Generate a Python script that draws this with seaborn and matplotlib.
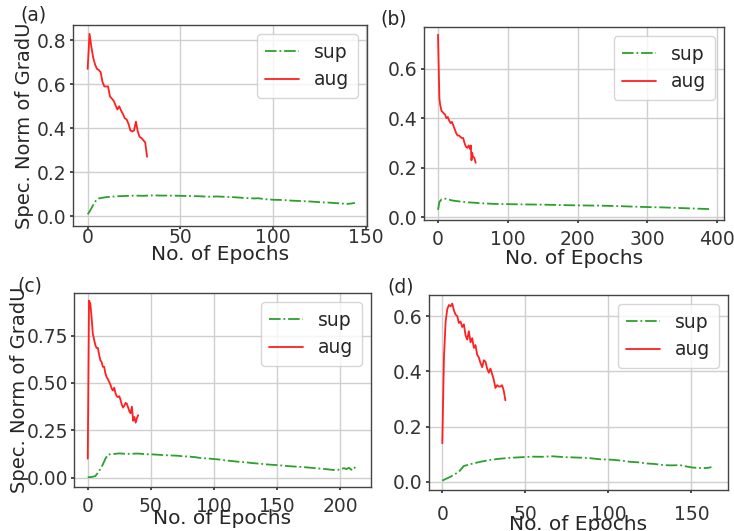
import matplotlib
matplotlib.use("Agg")
import matplotlib.pyplot as plt
import seaborn as sns
from matplotlib.ticker import FormatStrFormatter

# ---------------- data ----------------
# panel (a)
a_sup_ep = [0, 1, 2, 3, 4, 5, 6, 8, 10, 13, 16, 20, 25, 30, 35, 40, 45, 50, 55, 60, 65, 70, 75, 80, 85,
            90, 92, 95, 100, 105, 110, 115, 120, 125, 130, 135, 140, 142, 144]
a_sup = [0.008, 0.02, 0.035, 0.05, 0.065, 0.075, 0.08, 0.083, 0.086, 0.088, 0.09, 0.091, 0.093, 0.092,
         0.094, 0.093, 0.093, 0.092, 0.091, 0.090, 0.088, 0.089, 0.087, 0.085, 0.082, 0.080, 0.081,
         0.077, 0.074, 0.073, 0.070, 0.068, 0.066, 0.063, 0.061, 0.058, 0.055, 0.057, 0.060]
a_aug_ep = list(range(0, 33))
a_aug = [0.67, 0.83, 0.77, 0.72, 0.69, 0.67, 0.665, 0.655, 0.61, 0.59, 0.59, 0.59, 0.545, 0.535, 0.525,
         0.505, 0.485, 0.50, 0.48, 0.465, 0.445, 0.44, 0.42, 0.39, 0.385, 0.39, 0.43, 0.385, 0.36,
         0.355, 0.345, 0.335, 0.27]

# panel (b)
b_sup_ep = [0, 2, 5, 9, 15, 20, 30, 40, 50, 60, 80, 100, 120, 150, 180, 200, 230, 260, 290, 320, 350,
            370, 390]
b_sup = [0.03, 0.062, 0.072, 0.076, 0.072, 0.068, 0.064, 0.061, 0.059, 0.057, 0.054, 0.053, 0.052,
         0.051, 0.049, 0.048, 0.047, 0.045, 0.042, 0.040, 0.037, 0.035, 0.033]
b_aug_ep = [0, 1, 2, 3, 5, 8, 10, 12, 14, 16, 18, 20, 22, 24, 26, 28, 30, 32, 34, 36, 38, 40, 42, 44,
            46, 47, 48, 49, 50, 52, 54]
b_aug = [0.737, 0.60, 0.48, 0.455, 0.43, 0.42, 0.415, 0.40, 0.405, 0.39, 0.38, 0.385, 0.37, 0.355,
         0.34, 0.33, 0.33, 0.325, 0.32, 0.32, 0.30, 0.285, 0.28, 0.29, 0.275, 0.29, 0.23, 0.26, 0.245,
         0.24, 0.22]

# panel (c)
c_sup_ep = [0, 3, 6, 8, 10, 12, 14, 16, 20, 25, 30, 35, 40, 45, 50, 55, 60, 65, 70, 75, 80, 85, 90,
            95, 100, 105, 110, 115, 120, 125, 130, 135, 140, 145, 150, 155, 160, 165, 170, 175, 180,
            185, 190, 195, 200, 203, 205, 207, 209, 211, 213]
c_sup = [0.002, 0.003, 0.008, 0.025, 0.045, 0.07, 0.10, 0.122, 0.124, 0.128, 0.125, 0.126, 0.127,
         0.124, 0.123, 0.121, 0.119, 0.117, 0.116, 0.113, 0.111, 0.108, 0.103, 0.101, 0.098, 0.095,
         0.090, 0.087, 0.083, 0.081, 0.077, 0.074, 0.071, 0.068, 0.066, 0.063, 0.060, 0.058, 0.056,
         0.053, 0.050, 0.047, 0.044, 0.040, 0.042, 0.050, 0.045, 0.052, 0.041, 0.055, 0.045]
c_aug_ep = list(range(0, 41))
c_aug = [0.10, 0.935, 0.92, 0.85, 0.76, 0.73, 0.70, 0.685, 0.685, 0.65, 0.62, 0.61, 0.585, 0.585,
         0.55, 0.53, 0.52, 0.505, 0.49, 0.47, 0.46, 0.475, 0.445, 0.43, 0.425, 0.43, 0.41, 0.385,
         0.37, 0.38, 0.395, 0.39, 0.37, 0.35, 0.34, 0.375, 0.30, 0.32, 0.29, 0.315, 0.33]

# panel (d)
d_sup_ep = [0, 5, 10, 13, 18, 23, 28, 33, 38, 43, 49, 55, 60, 66, 73, 78, 83, 89, 95, 100, 103, 108,
            113, 118, 123, 128, 133, 138, 143, 147, 151, 157, 160, 162]
d_sup = [0.005, 0.019, 0.037, 0.058, 0.066, 0.073, 0.079, 0.083, 0.086, 0.088, 0.090, 0.0915, 0.091,
         0.093, 0.090, 0.089, 0.088, 0.086, 0.082, 0.081, 0.080, 0.077, 0.073, 0.071, 0.067, 0.065,
         0.061, 0.060, 0.061, 0.056, 0.052, 0.050, 0.051, 0.054]
d_aug_ep = list(range(0, 39))
d_aug = [0.14, 0.45, 0.58, 0.625, 0.64, 0.635, 0.645, 0.62, 0.605, 0.60, 0.575, 0.58, 0.56, 0.57,
         0.53, 0.515, 0.545, 0.505, 0.52, 0.485, 0.495, 0.46, 0.45, 0.43, 0.415, 0.44, 0.435, 0.41,
         0.395, 0.41, 0.39, 0.37, 0.34, 0.35, 0.345, 0.345, 0.35, 0.33, 0.295]

panel_letters = ["(a)", "(b)", "(c)", "(d)"]
xtick_vals = [[0, 50, 100, 150], [0, 100, 200, 300, 400], [0, 50, 100, 150, 200], [0, 50, 100, 150]]
ytick_vals = [[0.0, 0.2, 0.4, 0.6, 0.8], [0.0, 0.2, 0.4, 0.6], [0.0, 0.25, 0.5, 0.75], [0.0, 0.2, 0.4, 0.6]]
ylabel_text = "Spec. Norm of GradU"
xlabel_text = "No. of Epochs"

# ---------------- style ----------------
sns.set_theme(style="ticks")
plt.rcParams["font.family"] = ["DejaVu Sans"]
plt.rcParams.update({
    "axes.edgecolor": "#444444",
    "axes.linewidth": 1.0,
    "grid.color": "#cfcfcf",
    "grid.linewidth": 1.0,
    "xtick.color": "#333333",
    "ytick.color": "#333333",
    "xtick.major.size": 2.5,
    "ytick.major.size": 2.5,
})

W, H = 734, 531
fig = plt.figure(figsize=(W / 100, H / 100), dpi=100)

def rect(l, r, t, b):
    return [l / W, 1 - b / H, (r - l) / W, (b - t) / H]

rects = [rect(73, 367, 25, 226), rect(424, 724, 27, 220), rect(74, 371, 293, 487), rect(429, 728, 295, 490)]
xlims = [(-7.9, 150.5), (-20.1, 410), (-10.9, 224.5), (-8.0, 172)]
ylims = [(-0.0455, 0.870), (-0.011, 0.768), (-0.0497, 0.975), (-0.029, 0.676)]
letter_pos = [(20, 15), (380, 19), (17, 286), (387, 287)]
xtick_pad = [-0.8, 5.0, 4.5, 8.5]
xlabel_y = [-0.0945, -0.1502, -0.1135, -0.1282]
ylabel_x = {0: -0.1327, 2: -0.1515}

series = [
    (a_sup_ep, a_sup, a_aug_ep, a_aug),
    (b_sup_ep, b_sup, b_aug_ep, b_aug),
    (c_sup_ep, c_sup, c_aug_ep, c_aug),
    (d_sup_ep, d_sup, d_aug_ep, d_aug),
]

GREEN = "#2ca02c"
RED = "#ff2020"

for i, (sx, sy, ax_, ay) in enumerate(series):
    ax = fig.add_axes(rects[i])
    sns.lineplot(x=sx, y=sy, ax=ax, color=GREEN, linestyle="-.", linewidth=1.3, label="sup")
    sns.lineplot(x=ax_, y=ay, ax=ax, color=RED, linestyle="-", linewidth=1.3, label="aug")
    ax.set_xlim(*xlims[i])
    ax.set_ylim(*ylims[i])
    ax.set_xticks(xtick_vals[i])
    ax.set_yticks(ytick_vals[i])
    if i == 2:
        ax.yaxis.set_major_formatter(FormatStrFormatter("%.2f"))
    else:
        ax.yaxis.set_major_formatter(FormatStrFormatter("%.1f"))
    ax.grid(True)
    ax.tick_params(axis="y", labelsize=13.5, pad=2)
    ax.tick_params(axis="x", labelsize=13.5, pad=xtick_pad[i])
    ax.set_xlabel(xlabel_text, fontsize=14.5)
    ax.xaxis.set_label_coords(0.5, xlabel_y[i])
    if i in (0, 2):
        ax.set_ylabel(ylabel_text, fontsize=14)
        ax.yaxis.set_label_coords(ylabel_x[i], 0.5)
    else:
        ax.set_ylabel("")
    leg = ax.legend(loc="upper right", fontsize=13.5, frameon=True, borderaxespad=0.5,
                    handlelength=1.8, labelspacing=0.45, borderpad=0.45)
    leg.get_frame().set_edgecolor("#cccccc")
    fig.text(letter_pos[i][0] / W, 1 - letter_pos[i][1] / H, panel_letters[i],
             fontsize=13.5, ha="left", va="center")

fig.savefig("out.png", dpi=100)
